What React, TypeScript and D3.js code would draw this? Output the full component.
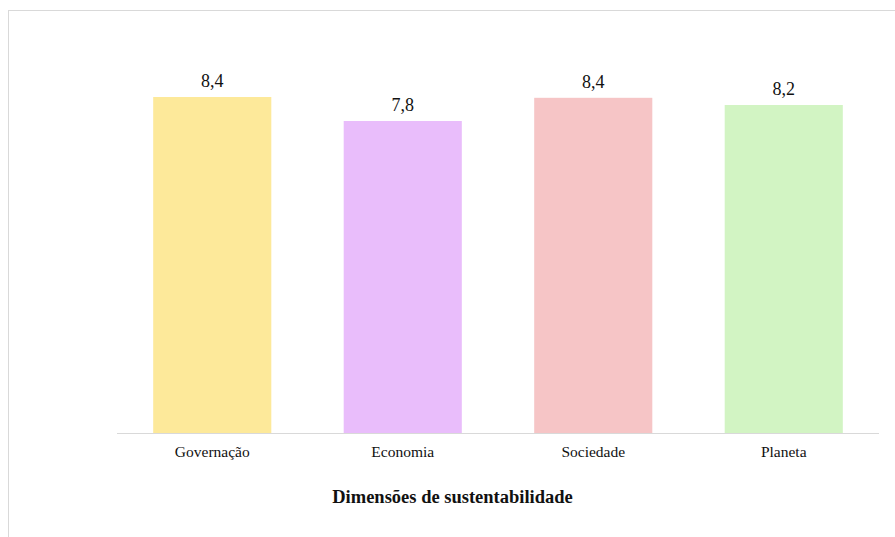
import React from "react";
import * as d3 from "d3";

const categories = ["Governação", "Economia", "Sociedade", "Planeta"];
const values = [8.4, 7.8, 8.38, 8.2];
const colors = ["#fde99a", "#e9bdfb", "#f6c5c6", "#d2f4c3"];
const axisTitle = "Dimensões de sustentabilidade";

export default function App() {
  const W = 895, H = 537;
  const left = 117, right = 879, baseline = 433;
  const x = d3.scaleBand<string>().domain(categories).range([left, right]).paddingInner(0.38).paddingOuter(0.19);
  const y = d3.scaleLinear().domain([0, 10]).range([baseline, 33]);
  const fmt = (v: number) => d3.format(".1f")(v).replace(".", ",");
  const font = "'Liberation Serif', 'Times New Roman', serif";
  return (
    <svg width={W} height={H} style={{ position: "absolute", left: 0, top: 0, background: "#fff" }} fontFamily={font}>
      <rect x={8.5} y={10.5} width={900} height={600} fill="#fff" stroke="#d9d9d9" strokeWidth={1} />
      {categories.map((c, i) => (
        <g key={c}>
          <rect x={x(c)} y={y(values[i])} width={x.bandwidth()} height={baseline - y(values[i])} fill={colors[i]} />
          <text x={(x(c) as number) + x.bandwidth() / 2} y={y(values[i]) - 10} textAnchor="middle" fontSize={18} fill="#111">
            {fmt(values[i])}
          </text>
          <text x={(x(c) as number) + x.bandwidth() / 2} y={457} textAnchor="middle" fontSize={15.5} fill="#111">
            {c}
          </text>
        </g>
      ))}
      <line x1={left} x2={right} y1={baseline + 0.5} y2={baseline + 0.5} stroke="#d9d9d9" strokeWidth={1} />
      <text x={452.5} y={503} textAnchor="middle" fontSize={18.5} fontWeight="bold" fill="#111">
        {axisTitle}
      </text>
    </svg>
  );
}
